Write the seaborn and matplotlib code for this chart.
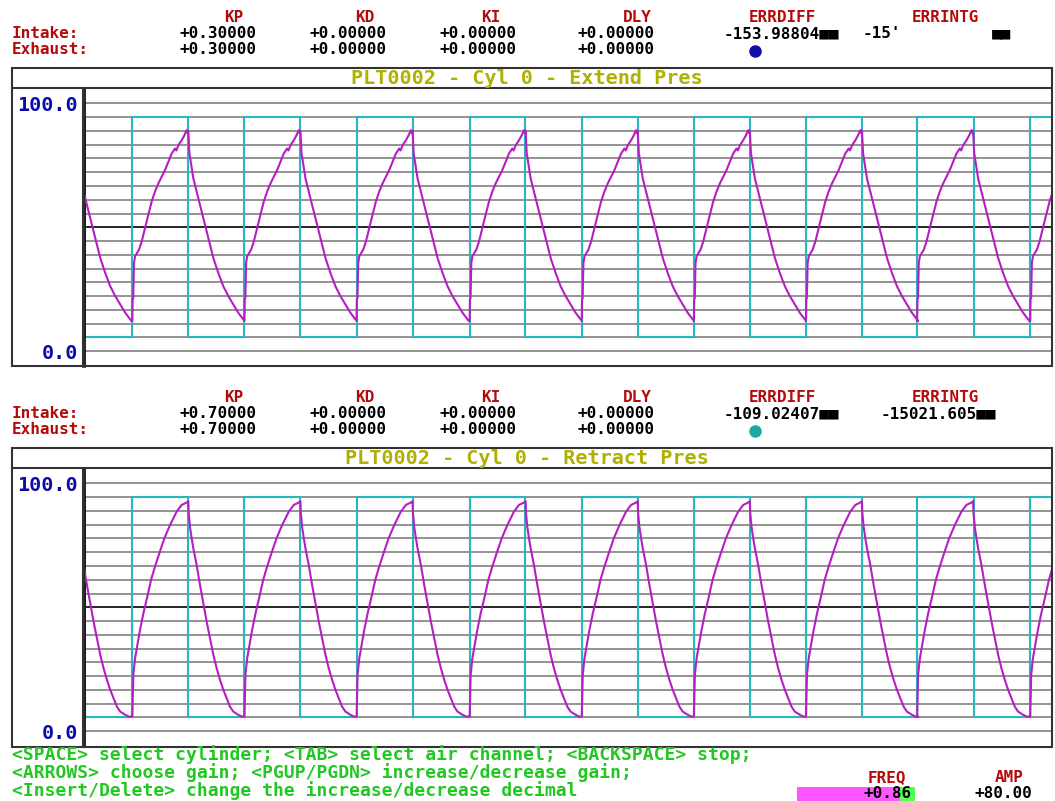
#!/usr/bin/env python
import numpy as np, pandas as pd
import seaborn as sns
import matplotlib.pyplot as plt
from matplotlib.patches import Rectangle
plt.switch_backend('agg')

##########################
### 0. data off screen ###
##########################
# command (valve) switch times in s, command starts low at t=0 and toggles at each switch
switch_times = [0.49, 1.07, 1.65, 2.22, 2.81, 3.39, 3.98, 4.55, 5.14, 5.72, 6.30, 6.88, 7.46, 8.04, 8.61, 9.20, 9.78]
cmd_low = 5.56
cmd_high = 94.44
# rising edges of the command (incl. the cycle already running at t=0)
cycle_starts = [-0.68, 0.49, 1.65, 2.81, 3.98, 5.14, 6.30, 7.46, 8.61, 9.78]

# one pressure cycle, s after rising edge vs percent
extend_phase = [0.000, 0.003, 0.009, 0.017, 0.028, 0.069, 0.097, 0.131, 0.165, 0.200, 0.234, 0.269, 0.303,
	0.338, 0.372, 0.407, 0.441, 0.455, 0.476, 0.510, 0.538, 0.562, 0.572, 0.579, 0.586, 0.590, 0.631,
	0.665, 0.700, 0.734, 0.769, 0.803, 0.838, 0.889, 0.941, 0.993, 1.044, 1.096, 1.138, 1.160]
extend_pres = [12.2, 20.9, 21.5, 35.6, 38.3, 41.0, 44.3, 49.7, 55.0, 60.4, 64.4, 67.7, 70.4,
	73.1, 76.4, 79.8, 81.8, 81.0, 83.1, 85.1, 87.1, 89.2, 88.0, 89.0, 83.8, 80.0, 69.7,
	64.4, 59.0, 53.7, 48.3, 43.0, 37.6, 31.6, 26.2, 22.2, 18.9, 15.5, 13.3, 12.2]

retract_phase = [0.000, 0.010, 0.028, 0.052, 0.079, 0.114, 0.159, 0.193, 0.234, 0.279, 0.331, 0.390,
	0.458, 0.510, 0.562, 0.579, 0.582, 0.596, 0.614, 0.631, 0.665, 0.700, 0.734, 0.769, 0.803, 0.838,
	0.872, 0.907, 0.941, 0.976, 1.010, 1.044, 1.096, 1.138, 1.160]
retract_pres = [5.9, 22.7, 29.4, 34.8, 40.8, 47.5, 55.0, 61.0, 66.4, 71.8, 77.8, 83.2,
	88.6, 91.3, 92.3, 92.8, 88.6, 82.5, 77.8, 73.8, 67.1, 59.0, 51.6, 44.2, 37.5, 30.8,
	25.4, 20.7, 16.7, 13.3, 9.9, 7.9, 6.6, 5.8, 5.9]

# header table
gain_names = ["KP", "KD", "KI", "DLY", "ERRDIFF", "ERRINTG"]
extend_intake = ["+0.30000", "+0.00000", "+0.00000", "+0.00000"]
extend_exhaust = ["+0.30000", "+0.00000", "+0.00000", "+0.00000"]
extend_err = ["-153.98804■■", "-15'"]
retract_intake = ["+0.70000", "+0.00000", "+0.00000", "+0.00000"]
retract_exhaust = ["+0.70000", "+0.00000", "+0.00000", "+0.00000"]
retract_err = ["-109.02407■■", "-15021.605■■"]
titles = ["PLT0002 - Cyl 0 - Extend Pres", "PLT0002 - Cyl 0 - Retract Pres"]
help_lines = ["<SPACE> select cylinder; <TAB> select air channel; <BACKSPACE> stop;",
	"<ARROWS> choose gain; <PGUP/PGDN> increase/decrease gain;",
	"<Insert/Delete> change the increase/decrease decimal"]
freq_val = "+0.86"
amp_val = "+80.00"

RED = '#b40a0a'; BLUE = '#0c0ca8'; OLIVE = '#b0b000'; GREEN = '#22c822'
CYAN = '#26b8bc'; MAG = '#b41ec3'; GRID = '#8a8a8a'; BOX = '#333333'
HDR = 11.5   # header font size (rows are only 15 px apart on the screen)

sns.set_theme(style="white")
plt.rcParams['font.family'] = ['DejaVu Sans Mono', 'DejaVu Sans']
plt.rcParams['font.weight'] = 'bold'

W, H = 1055, 801
fig = plt.figure(figsize=(W / 100, H / 100), dpi=100)
fig.patch.set_facecolor('white')

def px_axes(x0, y0, x1, y1, **kw):
	return fig.add_axes([x0 / W, 1 - y1 / H, (x1 - x0) / W, (y1 - y0) / H], **kw)

def cycle_curve(phase, pres):
	t = np.concatenate([s + np.array(phase) for s in cycle_starts])
	v = np.concatenate([pres for s in cycle_starts])
	return pd.DataFrame({"t": t, "pres": v})

cmd_t = [0.0, 0.0] + switch_times + [10.0]
cmd_v = [cmd_high, cmd_low] + [cmd_high if i % 2 == 0 else cmd_low for i in range(len(switch_times))]
cmd_v = cmd_v + [cmd_v[-1]]
cmd = pd.DataFrame({"t": cmd_t, "v": cmd_v})

grid_levels = np.linspace(0, 100, 19)

##########################
### 1. the two panels  ###
##########################
def draw_panel(ax, curve):
	ax.set_facecolor('white')
	for lv in grid_levels:
		if abs(lv - 50) < 1e-6:
			ax.axhline(lv, color='black', lw=1.2, zorder=1)
		else:
			ax.axhline(lv, color=GRID, lw=1.3, zorder=1)
	sns.lineplot(data=cmd, x="t", y="v", ax=ax, color=CYAN, lw=1.5, drawstyle='steps-post',
		sort=False, estimator=None, zorder=2)
	sns.lineplot(data=curve, x="t", y="pres", ax=ax, color=MAG, lw=1.5,
		sort=False, estimator=None, zorder=3)
	ax.set_xlim(0, 10)
	ax.set_ylim(-6.2, 106.1)
	ax.set_xticks([])
	ax.set_yticks([0, 100], ["0.0", "100.0"])
	ax.set_xlabel("")
	ax.set_ylabel("")
	ax.tick_params(axis='y', length=0, pad=5, labelcolor=BLUE, labelsize=14.5)
	for lab in ax.get_yticklabels():
		lab.set_fontweight('bold')
	for sp in ['top', 'right', 'bottom']:
		ax.spines[sp].set_visible(False)
	ax.spines['left'].set_color('black')
	ax.spines['left'].set_linewidth(1.2)

ax_top = px_axes(85, 88.3, 1051.5, 366.5)
draw_panel(ax_top, cycle_curve(extend_phase, extend_pres))
ax_bot = px_axes(85, 468.3, 1051.5, 746.5)
draw_panel(ax_bot, cycle_curve(retract_phase, retract_pres))

##############################
### 2. screen text / boxes ###
##############################
ov = fig.add_axes([0, 0, 1, 1], zorder=5)
ov.set_xlim(0, W)
ov.set_ylim(H, 0)
ov.axis('off')

name_x = [234, 365, 491, 637, 782, 945]
val_x = [217.5, 347.5, 477.5, 616]

def header(y0, intake, exhaust, err, dot_color, title, with_tail):
	for nm, x in zip(gain_names, name_x):
		ov.text(x, y0 + 22.3, nm, color=RED, fontsize=HDR, ha='center', va='baseline')
	ov.text(12, y0 + 38, "Intake:", color=RED, fontsize=HDR, ha='left', va='baseline')
	ov.text(12, y0 + 54, "Exhaust:", color=RED, fontsize=HDR, ha='left', va='baseline')
	for v, x in zip(intake, val_x):
		ov.text(x, y0 + 38, v, color='black', fontsize=HDR, ha='center', va='baseline')
	for v, x in zip(exhaust, val_x):
		ov.text(x, y0 + 54, v, color='black', fontsize=HDR, ha='center', va='baseline')
	ov.text(781, y0 + 38, err[0], color='black', fontsize=HDR, ha='center', va='baseline')
	if with_tail:
		ov.text(863, y0 + 38, err[1], color='black', fontsize=HDR, ha='left', va='baseline')
		ov.text(1002, y0 + 38, "■■", color='black', fontsize=HDR, ha='center', va='baseline')
	else:
		ov.text(938, y0 + 38, err[1], color='black', fontsize=HDR, ha='center', va='baseline')
	ov.plot([755], [y0 + 51], 'o', color=dot_color, ms=8)
	# box
	ov.add_patch(Rectangle((11.5, y0 + 68.3), 1040, 298.2, fill=False, ec=BOX, lw=1.5))
	ov.plot([11.5, 1051.5], [y0 + 88.3, y0 + 88.3], color=BOX, lw=1.5)
	ov.plot([83, 83], [y0 + 88.3, y0 + 366.5], color=BOX, lw=1.5)
	ov.text(527, y0 + 83.5, title, color=OLIVE, fontsize=14.5, ha='center', va='baseline')

header(0, extend_intake, extend_exhaust, extend_err, '#1010a8', titles[0], True)
header(380, retract_intake, retract_exhaust, retract_err, '#1aa8a8', titles[1], False)

for i, line in enumerate(help_lines):
	ov.text(12, [760, 778, 796][i], line, color=GREEN, fontsize=13, ha='left', va='baseline')

ov.add_patch(Rectangle((797, 786.5), 103, 14, color='#ff55ff', lw=0))
ov.add_patch(Rectangle((900, 786.5), 15, 14, color='#55ff55', lw=0))
ov.text(887, 782, "FREQ", color=RED, fontsize=HDR, ha='center', va='baseline')
ov.text(1009, 782, "AMP", color=RED, fontsize=HDR, ha='center', va='baseline')
ov.text(912, 798.5, freq_val, color='black', fontsize=HDR, ha='right', va='baseline')
ov.text(1003, 798.5, amp_val, color='black', fontsize=HDR, ha='center', va='baseline')

plt.savefig('out.png', dpi=100)
plt.close()
